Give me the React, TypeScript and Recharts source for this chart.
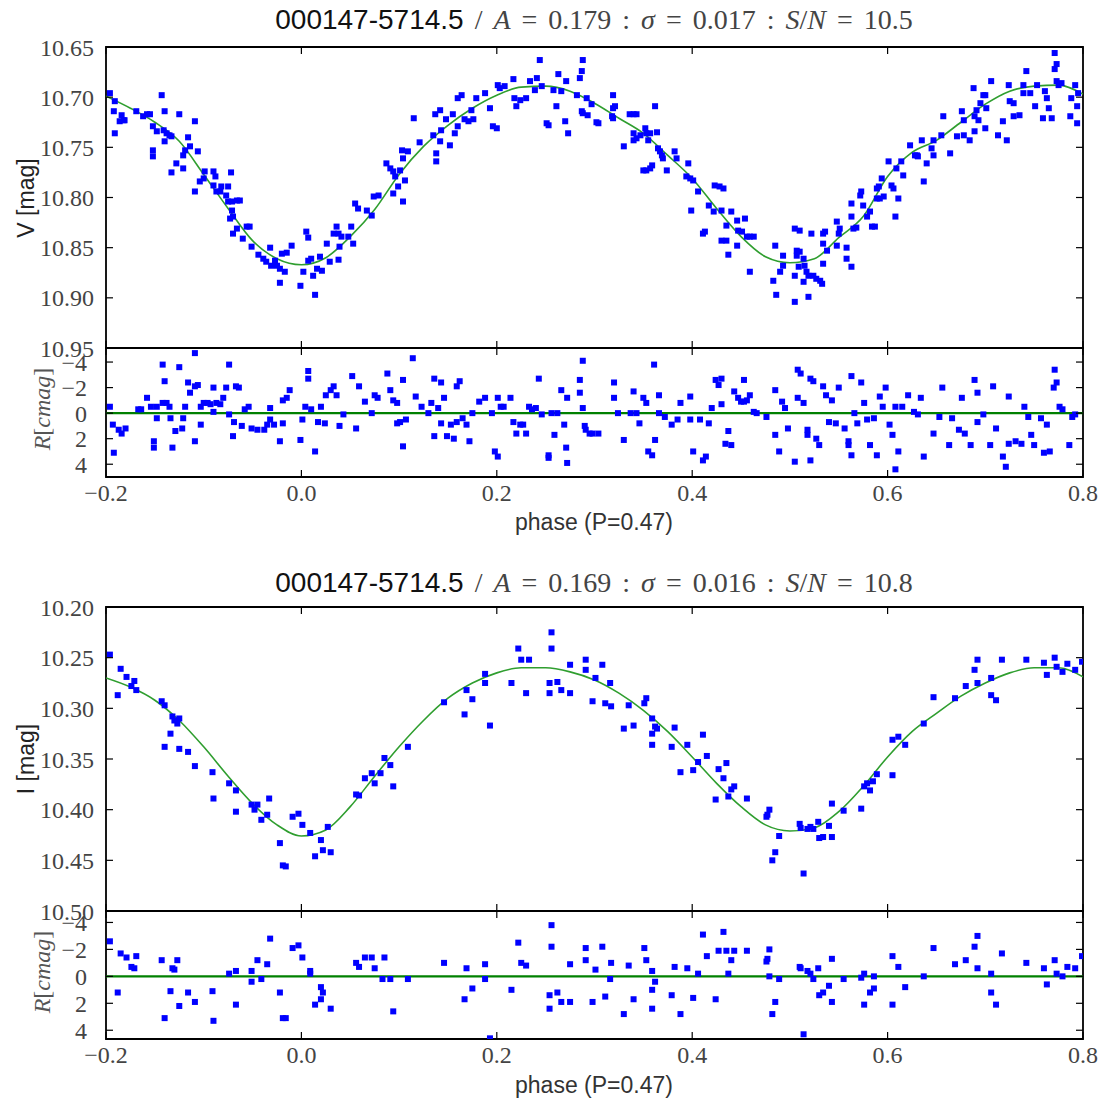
import React from 'react';
import { ComposedChart, Scatter, Line, XAxis, YAxis, ReferenceArea, ReferenceLine } from 'recharts';

type Pt = [number, number];

// axis ticks
const phaseTicks = [-0.2, 0, 0.2, 0.4, 0.6, 0.8];
const vMagTicks = [10.65, 10.7, 10.75, 10.8, 10.85, 10.9, 10.95];
const iMagTicks = [10.2, 10.25, 10.3, 10.35, 10.4, 10.45, 10.5];
const residTicks = [-4, -2, 0, 2, 4];

// V band: [phase, mag]
const vObs: Pt[] = [
  [-0.196, 10.696], [-0.191, 10.704], [-0.192, 10.714], [-0.191, 10.736], [-0.184, 10.718], [-0.182, 10.723],
  [-0.186, 10.724], [-0.181, 10.723], [-0.169, 10.714], [-0.162, 10.719], [-0.158, 10.717], [-0.155, 10.717],
  [-0.152, 10.729], [-0.148, 10.734], [-0.143, 10.698], [-0.14, 10.714], [-0.141, 10.733], [-0.138, 10.736],
  [-0.135, 10.738], [-0.14, 10.744], [-0.133, 10.739], [-0.152, 10.753], [-0.152, 10.759], [-0.133, 10.775],
  [-0.128, 10.766], [-0.125, 10.717], [-0.121, 10.771], [-0.121, 10.758], [-0.119, 10.753], [-0.116, 10.74],
  [-0.114, 10.749], [-0.109, 10.724], [-0.106, 10.754], [-0.109, 10.794], [-0.104, 10.784], [-0.099, 10.774],
  [-0.1, 10.781], [-0.09, 10.774], [-0.088, 10.779], [-0.09, 10.788], [-0.087, 10.794], [-0.083, 10.794],
  [-0.082, 10.789], [-0.077, 10.798], [-0.072, 10.775], [-0.075, 10.789], [-0.075, 10.804], [-0.071, 10.804],
  [-0.066, 10.803], [-0.063, 10.803], [-0.071, 10.813], [-0.073, 10.821], [-0.07, 10.819], [-0.066, 10.831],
  [-0.07, 10.836], [-0.06, 10.841], [-0.056, 10.829], [-0.053, 10.829], [-0.051, 10.849], [-0.044, 10.857],
  [-0.039, 10.861], [-0.036, 10.864], [-0.032, 10.85], [-0.031, 10.868], [-0.027, 10.863], [-0.025, 10.868],
  [-0.022, 10.871], [-0.02, 10.856], [-0.017, 10.874], [-0.022, 10.885], [-0.015, 10.855], [-0.01, 10.848],
  [-0.001, 10.888], [0.002, 10.874], [0.005, 10.834], [0.007, 10.84], [0.007, 10.863], [0.01, 10.861],
  [0.012, 10.878], [0.014, 10.897], [0.016, 10.871], [0.019, 10.859], [0.021, 10.873], [0.026, 10.846],
  [0.029, 10.864], [0.033, 10.836], [0.036, 10.829], [0.038, 10.836], [0.038, 10.862], [0.039, 10.849],
  [0.041, 10.839], [0.048, 10.839], [0.051, 10.829], [0.053, 10.846], [0.055, 10.806], [0.058, 10.811],
  [0.067, 10.813], [0.072, 10.818], [0.074, 10.799], [0.079, 10.798], [0.087, 10.766], [0.091, 10.771],
  [0.094, 10.774], [0.096, 10.779], [0.094, 10.796], [0.099, 10.789], [0.101, 10.773], [0.103, 10.753],
  [0.104, 10.761], [0.104, 10.804], [0.106, 10.783], [0.109, 10.754], [0.115, 10.721], [0.121, 10.745],
  [0.135, 10.738], [0.137, 10.717], [0.138, 10.756], [0.138, 10.764], [0.142, 10.713], [0.142, 10.744],
  [0.143, 10.733], [0.148, 10.722], [0.152, 10.748], [0.155, 10.717], [0.157, 10.736], [0.16, 10.729],
  [0.16, 10.701], [0.164, 10.698], [0.167, 10.722], [0.171, 10.724], [0.174, 10.713], [0.176, 10.722],
  [0.179, 10.701], [0.188, 10.696], [0.193, 10.711], [0.196, 10.729], [0.2, 10.731], [0.201, 10.688],
  [0.203, 10.691], [0.208, 10.689], [0.217, 10.682], [0.218, 10.701], [0.22, 10.709], [0.224, 10.703],
  [0.23, 10.701], [0.234, 10.684], [0.239, 10.693], [0.241, 10.681], [0.244, 10.663], [0.246, 10.689],
  [0.251, 10.726], [0.253, 10.728], [0.258, 10.693], [0.261, 10.709], [0.263, 10.677], [0.266, 10.694],
  [0.27, 10.724], [0.271, 10.684], [0.273, 10.736], [0.282, 10.698], [0.285, 10.681], [0.287, 10.674],
  [0.288, 10.663], [0.287, 10.714], [0.288, 10.716], [0.292, 10.701], [0.293, 10.718], [0.297, 10.707],
  [0.302, 10.725], [0.304, 10.726], [0.319, 10.698], [0.319, 10.711], [0.321, 10.709], [0.318, 10.719],
  [0.319, 10.721], [0.33, 10.749], [0.336, 10.717], [0.34, 10.717], [0.343, 10.717], [0.34, 10.736],
  [0.34, 10.743], [0.343, 10.741], [0.347, 10.738], [0.352, 10.731], [0.353, 10.736], [0.355, 10.743],
  [0.357, 10.736], [0.362, 10.709], [0.364, 10.735], [0.365, 10.751], [0.367, 10.754], [0.369, 10.758],
  [0.37, 10.761], [0.374, 10.773], [0.35, 10.773], [0.353, 10.773], [0.357, 10.771], [0.359, 10.768],
  [0.382, 10.754], [0.384, 10.761], [0.396, 10.766], [0.394, 10.779], [0.398, 10.781], [0.401, 10.783],
  [0.399, 10.813], [0.406, 10.794], [0.413, 10.834], [0.411, 10.836], [0.417, 10.808], [0.422, 10.814],
  [0.423, 10.788], [0.428, 10.789], [0.432, 10.791], [0.43, 10.813], [0.435, 10.828], [0.43, 10.843],
  [0.435, 10.843], [0.437, 10.857], [0.44, 10.814], [0.446, 10.823], [0.446, 10.848], [0.447, 10.833],
  [0.451, 10.834], [0.454, 10.821], [0.456, 10.839], [0.459, 10.839], [0.463, 10.839], [0.459, 10.874],
  [0.483, 10.883], [0.485, 10.848], [0.486, 10.897], [0.49, 10.874], [0.493, 10.858], [0.493, 10.868],
  [0.505, 10.831], [0.507, 10.853], [0.507, 10.858], [0.505, 10.878], [0.505, 10.904], [0.51, 10.833],
  [0.51, 10.854], [0.509, 10.869], [0.514, 10.861], [0.515, 10.868], [0.514, 10.884], [0.517, 10.874],
  [0.519, 10.878], [0.519, 10.899], [0.522, 10.836], [0.524, 10.878], [0.527, 10.881], [0.531, 10.883],
  [0.533, 10.886], [0.534, 10.836], [0.534, 10.846], [0.534, 10.866], [0.536, 10.834], [0.538, 10.853],
  [0.548, 10.824], [0.548, 10.848], [0.55, 10.836], [0.551, 10.831], [0.558, 10.85], [0.558, 10.861],
  [0.563, 10.806], [0.563, 10.819], [0.563, 10.869], [0.565, 10.831], [0.568, 10.83], [0.572, 10.798],
  [0.573, 10.794], [0.575, 10.808], [0.579, 10.819], [0.582, 10.814], [0.584, 10.829], [0.587, 10.829],
  [0.589, 10.801], [0.589, 10.791], [0.591, 10.789], [0.592, 10.801], [0.596, 10.799], [0.594, 10.781],
  [0.601, 10.764], [0.604, 10.788], [0.606, 10.791], [0.608, 10.819], [0.609, 10.771], [0.611, 10.801],
  [0.614, 10.764], [0.616, 10.778], [0.623, 10.748], [0.628, 10.758], [0.63, 10.758], [0.631, 10.759],
  [0.635, 10.743], [0.637, 10.784], [0.64, 10.766], [0.645, 10.751], [0.647, 10.758], [0.647, 10.743],
  [0.655, 10.738], [0.657, 10.719], [0.664, 10.756], [0.671, 10.739], [0.676, 10.714], [0.678, 10.738],
  [0.678, 10.723], [0.684, 10.743], [0.688, 10.691], [0.689, 10.719], [0.689, 10.734], [0.691, 10.713],
  [0.693, 10.723], [0.695, 10.706], [0.698, 10.698], [0.7, 10.698], [0.7, 10.731], [0.701, 10.711],
  [0.706, 10.684], [0.713, 10.738], [0.718, 10.724], [0.722, 10.743], [0.724, 10.688], [0.725, 10.704],
  [0.729, 10.706], [0.729, 10.719], [0.735, 10.718], [0.739, 10.688], [0.739, 10.696], [0.742, 10.674],
  [0.746, 10.696], [0.751, 10.709], [0.753, 10.688], [0.759, 10.721], [0.761, 10.694], [0.763, 10.701],
  [0.765, 10.711], [0.768, 10.721], [0.771, 10.656], [0.771, 10.672], [0.773, 10.667], [0.773, 10.684],
  [0.775, 10.688], [0.778, 10.686], [0.787, 10.719], [0.788, 10.701], [0.792, 10.688], [0.794, 10.726],
  [0.794, 10.709], [0.795, 10.696],
];

const vModel: Pt[] = [
  [-0.2, 10.699], [-0.175, 10.711], [-0.15, 10.725], [-0.125, 10.744], [-0.1, 10.777], [-0.075, 10.811],
  [-0.05, 10.843], [-0.025, 10.861], [0, 10.867], [0.025, 10.86], [0.05, 10.839], [0.075, 10.812],
  [0.1, 10.777], [0.125, 10.749], [0.15, 10.728], [0.175, 10.711], [0.2, 10.698], [0.225, 10.69],
  [0.25, 10.689], [0.275, 10.694], [0.3, 10.706], [0.325, 10.721], [0.35, 10.736], [0.375, 10.758],
  [0.4, 10.781], [0.425, 10.811], [0.45, 10.839], [0.475, 10.859], [0.5, 10.865], [0.525, 10.861],
  [0.55, 10.84], [0.575, 10.819], [0.6, 10.779], [0.625, 10.755], [0.65, 10.743], [0.675, 10.725],
  [0.7, 10.707], [0.725, 10.694], [0.75, 10.689], [0.775, 10.688], [0.8, 10.697],
];

// V residuals: [phase, cmag]
const vResid: Pt[] = [
  [-0.196, -0.5], [-0.193, 0.9], [-0.192, 3.1], [-0.187, 1.3], [-0.184, 1.6], [-0.18, 1.2], [-0.167, -0.3],
  [-0.164, -0.3], [-0.158, -1.2], [-0.154, -0.5], [-0.151, 2.2], [-0.151, 2.7], [-0.148, -0.5], [-0.148, 0.4],
  [-0.142, -3.8], [-0.142, -0.8], [-0.14, -2.5], [-0.138, -0.8], [-0.135, -0.5], [-0.134, 0.4], [-0.132, 2.7],
  [-0.129, 1.4], [-0.125, -3.6], [-0.122, 1.2], [-0.121, 0.4], [-0.119, -0.5], [-0.116, -2.4], [-0.114, -1.6],
  [-0.109, 2.2], [-0.109, -4.7], [-0.109, -2.1], [-0.106, -2.2], [-0.103, -0.5], [-0.103, 0.9], [-0.1, -0.8],
  [-0.096, -0.8], [-0.093, -0.7], [-0.09, -2.0], [-0.09, -0.1], [-0.087, -0.8], [-0.083, -0.7], [-0.08, -1.2],
  [-0.077, -2.0], [-0.074, -3.8], [-0.074, 0.1], [-0.07, 1.8], [-0.069, 0.7], [-0.067, -2.1], [-0.064, -2.0],
  [-0.061, 1.0], [-0.058, -0.3], [-0.054, -0.5], [-0.051, 1.2], [-0.045, 1.3], [-0.038, 1.3], [-0.035, 0.9],
  [-0.032, -0.4], [-0.032, 0.5], [-0.028, 0.9], [-0.022, 2.2], [-0.019, 0.8], [-0.019, -1.0], [-0.015, -1.2],
  [-0.012, -1.8], [-0.001, 2.1], [0.001, 0.5], [0.004, -0.5], [0.007, -3.3], [0.007, -2.7], [0.01, -0.3],
  [0.014, 3.0], [0.017, 0.7], [0.02, -0.5], [0.024, 0.8], [0.025, -1.4], [0.03, -1.8], [0.033, -2.1],
  [0.036, -1.4], [0.039, 1.0], [0.043, 0.1], [0.052, -2.9], [0.056, 1.2], [0.059, -2.1], [0.065, -0.9],
  [0.072, 0.0], [0.075, -1.4], [0.078, -1.2], [0.088, -3.1], [0.091, -1.8], [0.094, -1.0], [0.098, -0.8],
  [0.098, 0.8], [0.101, 0.7], [0.104, -2.6], [0.104, 2.6], [0.107, 0.5], [0.114, -4.3], [0.117, -1.3],
  [0.123, -0.5], [0.13, 0.0], [0.133, -0.8], [0.136, -2.7], [0.136, 1.8], [0.14, -0.4], [0.143, -2.4],
  [0.143, 0.8], [0.146, -1.2], [0.149, 1.8], [0.153, 0.9], [0.156, 2.0], [0.159, -2.1], [0.159, 0.7],
  [0.162, -2.5], [0.165, 0.4], [0.169, 0.9], [0.172, 2.2], [0.175, 0.0], [0.182, -0.9], [0.188, -1.2],
  [0.195, 0.0], [0.198, 3.0], [0.201, -1.2], [0.201, 3.4], [0.204, -0.5], [0.207, -0.5], [0.214, -1.2],
  [0.217, 0.7], [0.22, 1.6], [0.224, 0.9], [0.227, 0.9], [0.23, 1.6], [0.233, -0.5], [0.236, -0.3],
  [0.24, -0.4], [0.243, -2.7], [0.246, 0.1], [0.253, 3.3], [0.253, 3.5], [0.256, 0.0], [0.259, 1.7],
  [0.262, 0.0], [0.266, -1.8], [0.269, 0.9], [0.271, 2.7], [0.272, 3.9], [0.272, -1.2], [0.285, -2.6],
  [0.285, -1.6], [0.288, -4.1], [0.288, -0.4], [0.29, 1.0], [0.291, 1.3], [0.295, 1.6], [0.298, 1.6],
  [0.304, 1.6], [0.32, -2.4], [0.32, -1.2], [0.324, 0.0], [0.33, 2.1], [0.337, 0.0], [0.34, -1.7],
  [0.343, 0.0], [0.346, 0.8], [0.35, -1.2], [0.353, -0.8], [0.355, 3.0], [0.359, 3.3], [0.361, -3.8],
  [0.362, 2.1], [0.366, 0.0], [0.366, -1.4], [0.372, 0.3], [0.379, 0.9], [0.385, 0.5], [0.388, -0.8],
  [0.398, -1.3], [0.398, 0.5], [0.401, 3.0], [0.408, 0.5], [0.411, 3.7], [0.414, 3.4], [0.417, 0.8],
  [0.42, -0.4], [0.424, -2.6], [0.427, -2.2], [0.43, -2.7], [0.43, -0.7], [0.434, 2.4], [0.437, 1.4],
  [0.44, 2.5], [0.443, -1.7], [0.447, -1.2], [0.45, -0.9], [0.453, -2.6], [0.453, -0.9], [0.456, -1.0],
  [0.459, -1.4], [0.463, -0.1], [0.466, 0.0], [0.476, 0.3], [0.485, -1.8], [0.485, 1.7], [0.489, 3.0],
  [0.492, -0.9], [0.495, -0.4], [0.498, 1.2], [0.505, 3.8], [0.508, -3.4], [0.508, -1.2], [0.511, -3.1],
  [0.514, -0.8], [0.518, 1.3], [0.518, 1.7], [0.521, 3.7], [0.521, -2.7], [0.524, -2.5], [0.527, 2.0],
  [0.53, 2.5], [0.534, -2.1], [0.537, -1.4], [0.54, 0.7], [0.543, -1.0], [0.547, 0.8], [0.55, -2.0],
  [0.556, 1.2], [0.56, 2.2], [0.56, 2.5], [0.563, -2.9], [0.563, 3.3], [0.566, 0.0], [0.569, 0.8],
  [0.573, -2.4], [0.576, -0.8], [0.579, 0.5], [0.582, 2.5], [0.586, 0.4], [0.589, 3.3], [0.592, -1.3],
  [0.595, -0.5], [0.598, -2.0], [0.602, 0.9], [0.605, 1.7], [0.608, -0.5], [0.608, 4.4], [0.611, 3.0],
  [0.615, -0.5], [0.621, -1.4], [0.627, -0.1], [0.631, 0.1], [0.634, -1.2], [0.637, 3.4], [0.647, 1.6],
  [0.653, 0.3], [0.656, -2.0], [0.663, 2.5], [0.666, 0.4], [0.673, 1.3], [0.676, -1.2], [0.679, 1.6],
  [0.685, 2.5], [0.689, -2.6], [0.692, -1.6], [0.692, 0.7], [0.698, 0.1], [0.705, 2.5], [0.708, -2.1],
  [0.711, 1.2], [0.718, 3.4], [0.721, 4.2], [0.724, -1.3], [0.724, 2.4], [0.731, 2.2], [0.737, 2.4],
  [0.74, -0.5], [0.744, 0.3], [0.747, 1.7], [0.75, 2.5], [0.757, 0.4], [0.76, 3.1], [0.763, 0.9],
  [0.766, 3.0], [0.77, -2.0], [0.771, -3.4], [0.773, -2.4], [0.776, -0.5], [0.779, -0.3], [0.786, 2.5],
  [0.789, 0.3], [0.792, 0.1],
];

// I band: [phase, mag]
const iObs: Pt[] = [
  [-0.196, 10.247], [-0.188, 10.287], [-0.185, 10.261], [-0.179, 10.269], [-0.174, 10.278], [-0.171, 10.273],
  [-0.169, 10.282], [-0.143, 10.293], [-0.14, 10.297], [-0.14, 10.338], [-0.134, 10.325], [-0.132, 10.308],
  [-0.13, 10.312], [-0.127, 10.315], [-0.125, 10.31], [-0.125, 10.34], [-0.116, 10.343], [-0.109, 10.357],
  [-0.091, 10.363], [-0.09, 10.389], [-0.074, 10.374], [-0.067, 10.381], [-0.067, 10.402], [-0.051, 10.395],
  [-0.048, 10.4], [-0.045, 10.395], [-0.041, 10.41], [-0.035, 10.405], [-0.033, 10.389], [-0.022, 10.433],
  [-0.019, 10.455], [-0.016, 10.456], [-0.009, 10.407], [-0.003, 10.404], [0.001, 10.415], [0.009, 10.423],
  [0.014, 10.446], [0.02, 10.43], [0.022, 10.44], [0.027, 10.417], [0.03, 10.442], [0.056, 10.385],
  [0.059, 10.386], [0.065, 10.369], [0.072, 10.364], [0.075, 10.374], [0.081, 10.364], [0.085, 10.349],
  [0.091, 10.356], [0.094, 10.377], [0.109, 10.338], [0.146, 10.294], [0.167, 10.306], [0.169, 10.282],
  [0.175, 10.291], [0.188, 10.266], [0.188, 10.275], [0.193, 10.317], [0.215, 10.275], [0.222, 10.241],
  [0.225, 10.252], [0.23, 10.285], [0.233, 10.252], [0.254, 10.275], [0.254, 10.285], [0.256, 10.225],
  [0.256, 10.241], [0.262, 10.274], [0.266, 10.282], [0.275, 10.257], [0.275, 10.285], [0.291, 10.252],
  [0.291, 10.262], [0.298, 10.293], [0.301, 10.27], [0.308, 10.257], [0.311, 10.295], [0.316, 10.275],
  [0.317, 10.298], [0.33, 10.32], [0.335, 10.297], [0.34, 10.317], [0.351, 10.295], [0.353, 10.29],
  [0.359, 10.31], [0.359, 10.325], [0.359, 10.336], [0.362, 10.318], [0.364, 10.32], [0.379, 10.338],
  [0.382, 10.319], [0.388, 10.363], [0.395, 10.336], [0.401, 10.361], [0.406, 10.353], [0.411, 10.326],
  [0.415, 10.347], [0.424, 10.39], [0.427, 10.36], [0.432, 10.369], [0.435, 10.354], [0.437, 10.387],
  [0.44, 10.38], [0.443, 10.377], [0.456, 10.389], [0.476, 10.407], [0.477, 10.405], [0.479, 10.4],
  [0.482, 10.45], [0.485, 10.442], [0.489, 10.426], [0.51, 10.414], [0.511, 10.418], [0.514, 10.463],
  [0.518, 10.419], [0.521, 10.417], [0.524, 10.419], [0.529, 10.412], [0.53, 10.428], [0.534, 10.427],
  [0.54, 10.416], [0.543, 10.427], [0.543, 10.394], [0.555, 10.401], [0.573, 10.399], [0.576, 10.377],
  [0.579, 10.374], [0.582, 10.381], [0.585, 10.372], [0.589, 10.365], [0.605, 10.331], [0.605, 10.366],
  [0.611, 10.328], [0.618, 10.336], [0.637, 10.315], [0.647, 10.289], [0.669, 10.29], [0.68, 10.278],
  [0.689, 10.262], [0.692, 10.252], [0.692, 10.275], [0.706, 10.27], [0.706, 10.287], [0.711, 10.292],
  [0.717, 10.252], [0.742, 10.252], [0.76, 10.255], [0.763, 10.267], [0.771, 10.25], [0.773, 10.259],
  [0.779, 10.264], [0.784, 10.256], [0.792, 10.262], [0.799, 10.254],
];

const iModel: Pt[] = [
  [-0.2, 10.27], [-0.175, 10.279], [-0.15, 10.292], [-0.125, 10.312], [-0.1, 10.338], [-0.075, 10.367],
  [-0.05, 10.394], [-0.025, 10.415], [0, 10.426], [0.025, 10.42], [0.05, 10.397], [0.075, 10.367],
  [0.1, 10.338], [0.125, 10.312], [0.15, 10.29], [0.175, 10.275], [0.2, 10.265], [0.225, 10.26],
  [0.25, 10.26], [0.275, 10.264], [0.3, 10.272], [0.325, 10.285], [0.35, 10.302], [0.375, 10.323],
  [0.4, 10.348], [0.425, 10.374], [0.45, 10.397], [0.475, 10.415], [0.5, 10.421], [0.525, 10.418],
  [0.55, 10.402], [0.575, 10.377], [0.6, 10.348], [0.625, 10.323], [0.65, 10.305], [0.675, 10.288],
  [0.7, 10.275], [0.725, 10.265], [0.75, 10.26], [0.775, 10.26], [0.8, 10.269],
];

// I residuals: [phase, cmag]
const iResid: Pt[] = [
  [-0.196, -2.6], [-0.188, 1.2], [-0.185, -1.7], [-0.179, -1.4], [-0.174, -0.7], [-0.171, -0.6], [-0.169, -1.5],
  [-0.143, -1.2], [-0.14, 3.1], [-0.134, 1.1], [-0.132, -0.6], [-0.13, -0.5], [-0.127, -1.2], [-0.125, 2.2],
  [-0.116, 1.2], [-0.109, 1.9], [-0.091, 1.1], [-0.09, 3.3], [-0.074, -0.2], [-0.067, 2.1], [-0.067, -0.4],
  [-0.051, -0.4], [-0.051, 0.4], [-0.045, -1.2], [-0.041, 0.2], [-0.035, -0.9], [-0.032, -2.8], [-0.022, 1.2],
  [-0.019, 3.1], [-0.016, 3.1], [-0.009, -2.1], [-0.003, -2.3], [0.001, -1.4], [0.009, -0.4], [0.009, -0.2],
  [0.014, 2.1], [0.02, 0.8], [0.022, 1.2], [0.02, 1.7], [0.03, 2.4], [0.056, -1.0], [0.059, -0.7],
  [0.065, -1.4], [0.072, -1.4], [0.075, -0.6], [0.083, 0.2], [0.085, -1.4], [0.091, 0.2], [0.094, 2.6],
  [0.109, 0.2], [0.146, -1.0], [0.167, 1.7], [0.169, -0.6], [0.175, 0.9], [0.188, -0.9], [0.188, 0.2],
  [0.193, 4.6], [0.215, 1.0], [0.222, -2.5], [0.225, -1.0], [0.23, -0.8], [0.254, 1.4], [0.254, 2.4],
  [0.256, -3.8], [0.256, -2.2], [0.262, 1.2], [0.266, 1.9], [0.275, -0.9], [0.275, 1.9], [0.291, -2.1],
  [0.291, -1.2], [0.298, 1.9], [0.301, -0.5], [0.308, -2.2], [0.311, 1.5], [0.316, 0.2], [0.317, -1.0],
  [0.33, 2.8], [0.335, -0.8], [0.34, 1.7], [0.351, -2.1], [0.353, -1.2], [0.359, -0.4], [0.359, 1.0],
  [0.359, 2.4], [0.362, 0.4], [0.379, 1.4], [0.382, -0.7], [0.388, 2.8], [0.395, -0.6], [0.401, 1.6],
  [0.406, -0.2], [0.411, -3.1], [0.415, -1.5], [0.424, 1.7], [0.427, -1.9], [0.432, -3.3], [0.435, -1.9],
  [0.437, -0.2], [0.44, -1.2], [0.443, -1.9], [0.456, -1.9], [0.476, -1.1], [0.477, -1.3], [0.479, -2.0],
  [0.479, 0.0], [0.482, 2.8], [0.485, 1.9], [0.489, 0.2], [0.51, -0.7], [0.511, -0.6], [0.514, 4.3],
  [0.518, -0.4], [0.521, -0.2], [0.524, 0.2], [0.529, -0.6], [0.53, 1.4], [0.534, 1.2], [0.54, 0.7],
  [0.543, -1.3], [0.543, 1.9], [0.555, 0.2], [0.573, 0.1], [0.576, -0.2], [0.576, 2.1], [0.582, 1.2],
  [0.586, 0.9], [0.586, 0.0], [0.605, -1.5], [0.605, 2.1], [0.611, -0.7], [0.618, 0.8], [0.637, 0.0],
  [0.647, -2.1], [0.669, -0.9], [0.68, -1.2], [0.689, -2.2], [0.692, -3.0], [0.692, -0.6], [0.706, -0.2],
  [0.706, 1.2], [0.711, 2.1], [0.717, -1.7], [0.742, -1.0], [0.76, -0.6], [0.763, 0.6], [0.771, -1.2],
  [0.773, -0.2], [0.779, 0.0], [0.784, -0.7], [0.792, -0.6], [0.799, -1.5],
];

const W = 1101;
const H = 1099;
const PLOT_LEFT = 106;
const PLOT_RIGHT = 1083;
const Y_AXIS_W = 60;
const X_AXIS_H = 1;
const TICK = 7;

const SERIF = '"Liberation Serif", "Times New Roman", serif';
const SANS = '"Liberation Sans", Arial, sans-serif';
const tickText = { fontFamily: SERIF, fontSize: 24, fill: '#444' };

const withMinus = (s: string) => s.replace('-', '\u2212');
const fmtMag = (v: number) => v.toFixed(2);
const fmtPhase = (v: number) => withMinus(v.toFixed(1));
const fmtResid = (v: number) => withMinus(String(v));

const rows = (pts: Pt[]) => pts.map(([phase, val]) => ({ phase, val }));

const Square = (p: any) => (
  <rect x={p.cx - 3} y={p.cy - 3} width={6} height={6} fill="#0000ff" />
);

interface PanelProps {
  top: number;
  bottom: number;
  domain: [number, number];
  yTicks: number[];
  yFmt: (v: number) => string;
  yGap: number;
  obs: Pt[];
  model?: Pt[];
  zero?: boolean;
  xLabels?: boolean;
}

const Panel: React.FC<PanelProps> = ({ top, bottom, domain, yTicks, yFmt, yGap, obs, model, zero, xLabels }) => {
  // ticks point inward on all four sides, labels only on the left and bottom
  const yTick = ({ y, payload }: any) => (
    <g>
      <line x1={PLOT_LEFT} x2={PLOT_LEFT + TICK} y1={y} y2={y} stroke="#000" strokeWidth={1.2} />
      <line x1={PLOT_RIGHT - TICK} x2={PLOT_RIGHT} y1={y} y2={y} stroke="#000" strokeWidth={1.2} />
      <text x={PLOT_LEFT - yGap} y={y} dy="0.36em" textAnchor="end" {...tickText}>
        {yFmt(payload.value)}
      </text>
    </g>
  );
  const xTick = ({ x, payload }: any) => (
    <g>
      <line x1={x} x2={x} y1={bottom - TICK} y2={bottom} stroke="#000" strokeWidth={1.2} />
      <line x1={x} x2={x} y1={top} y2={top + TICK} stroke="#000" strokeWidth={1.2} />
      {xLabels && (
        <text x={x} y={bottom + 7} dy="0.71em" textAnchor="middle" {...tickText}>
          {fmtPhase(payload.value)}
        </text>
      )}
    </g>
  );

  return (
    <div style={{ position: 'absolute', left: 0, top: 0 }}>
      <ComposedChart
        width={W}
        height={H}
        margin={{ top, bottom: H - bottom - X_AXIS_H, left: PLOT_LEFT - Y_AXIS_W, right: W - PLOT_RIGHT }}
      >
        <XAxis
          dataKey="phase"
          type="number"
          domain={[-0.2, 0.8]}
          ticks={phaseTicks}
          interval={0}
          height={X_AXIS_H}
          axisLine={false}
          tickLine={false}
          tickSize={0}
          tick={xTick}
          allowDataOverflow
        />
        <YAxis
          dataKey="val"
          type="number"
          domain={domain}
          reversed
          ticks={yTicks}
          interval={0}
          width={Y_AXIS_W}
          axisLine={false}
          tickLine={false}
          tickSize={0}
          tick={yTick}
          allowDataOverflow
        />
        <ReferenceArea x1={-0.2} x2={0.8} y1={domain[0]} y2={domain[1]} fill="none" stroke="#000" strokeWidth={1.8} />
        {zero && <ReferenceLine y={0} stroke="#008000" strokeWidth={2.2} />}
        <Scatter data={rows(obs)} shape={Square} isAnimationActive={false} />
        {model && (
          <Line
            data={rows(model)}
            dataKey="val"
            type="monotone"
            stroke="#2f9e2f"
            strokeWidth={1.6}
            dot={false}
            isAnimationActive={false}
          />
        )}
      </ComposedChart>
    </div>
  );
};

const Txt: React.FC<{ x: number; y: number; rotate?: boolean; style?: React.CSSProperties; children: React.ReactNode }> = ({
  x,
  y,
  rotate,
  style,
  children,
}) => (
  <div
    style={{
      position: 'absolute',
      left: x,
      top: y,
      transform: `translate(-50%, -50%)${rotate ? ' rotate(-90deg)' : ''}`,
      whiteSpace: 'nowrap',
      lineHeight: 1,
      ...style,
    }}
  >
    {children}
  </div>
);

const Title: React.FC<{ y: number; a: string; sigma: string; sn: string }> = ({ y, a, sigma, sn }) => (
  <Txt x={594} y={y}>
    <span style={{ fontFamily: SANS, fontSize: 28, color: '#111' }}>000147-5714.5</span>
    <span style={{ fontFamily: SERIF, fontSize: 28, color: '#444', wordSpacing: 4 }}>
      {' / '}
      <i>A</i> = {a} : <i>σ</i> = {sigma} : <i>S</i>/<i>N</i> = {sn}
    </span>
  </Txt>
);

const magLabel = { fontFamily: SANS, fontSize: 23, color: '#222' };
const residLabel = { fontFamily: SERIF, fontSize: 24, color: '#555' };
const phaseLabel = { fontFamily: SANS, fontSize: 23, color: '#333' };

const ResidLabel: React.FC<{ y: number }> = ({ y }) => (
  <Txt x={42} y={y} rotate style={residLabel}>
    <i>R</i>[<i>cmag</i>]
  </Txt>
);

export default function App() {
  return (
    <div style={{ position: 'absolute', left: 0, top: 0, width: W, height: H, background: '#fff' }}>
      <Panel top={47} bottom={348} domain={[10.65, 10.95]} yTicks={vMagTicks} yFmt={fmtMag} yGap={12} obs={vObs} model={vModel} />
      <Panel top={348} bottom={477} domain={[-5.1, 5.0]} yTicks={residTicks} yFmt={fmtResid} yGap={19} obs={vResid} zero xLabels />
      <Panel top={607} bottom={911} domain={[10.2, 10.5]} yTicks={iMagTicks} yFmt={fmtMag} yGap={12} obs={iObs} model={iModel} />
      <Panel top={911} bottom={1039} domain={[-4.85, 4.65]} yTicks={residTicks} yFmt={fmtResid} yGap={19} obs={iResid} zero xLabels />

      <Title y={20} a="0.179" sigma="0.017" sn="10.5" />
      <Title y={583} a="0.169" sigma="0.016" sn="10.8" />

      <Txt x={26} y={198} rotate style={magLabel}>V [mag]</Txt>
      <Txt x={26} y={759} rotate style={magLabel}>I [mag]</Txt>
      <ResidLabel y={409} />
      <ResidLabel y={972} />
      <Txt x={594} y={522} style={phaseLabel}>phase (P=0.47)</Txt>
      <Txt x={594} y={1085} style={phaseLabel}>phase (P=0.47)</Txt>
    </div>
  );
}
